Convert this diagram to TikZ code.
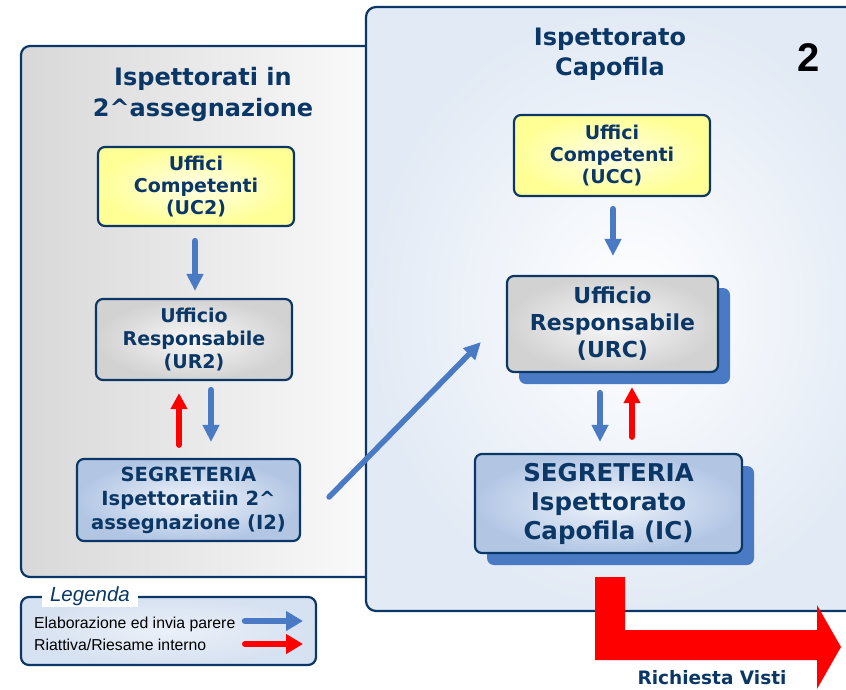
\documentclass[tikz,border=0pt]{standalone}
\usepackage{fontspec}
\usetikzlibrary{shapes,arrows.meta,shadows}
\newfontfamily\boxfont{DejaVu Sans}
\newfontfamily\legfont{Liberation Sans}
\definecolor{navy}{RGB}{10,55,102}
\definecolor{arrblue}{RGB}{74,122,196}
\definecolor{ylwout}{RGB}{255,255,150}
\definecolor{ylwin}{RGB}{255,255,232}
\definecolor{grayout}{RGB}{210,210,210}
\definecolor{grayin}{RGB}{248,248,248}
\definecolor{bluout}{RGB}{178,198,228}
\definecolor{bluin}{RGB}{240,244,251}
\definecolor{panelblue}{RGB}{226,234,245}
\definecolor{panelgray}{RGB}{216,216,216}
\definecolor{legblue}{RGB}{214,225,241}
\tikzset{
  office/.style={draw=navy,line width=2.2pt,rounded corners=7pt,align=center,text=navy},
  ylwbox/.style={office,inner color=ylwin,outer color=ylwout},
  graybox/.style={office,inner color=grayin,outer color=grayout},
  blubox/.style={office,inner color=bluin,outer color=bluout},
  blushadow/.style={drop shadow={shadow xshift=12pt,shadow yshift=-12pt,fill=arrblue,opacity=1}},
  flowarrow/.style={draw=arrblue,line width=6.5pt,line cap=round,-{Triangle[width=16pt,length=17pt]}},
  backarrow/.style={draw=red,line width=6pt,line cap=round,-{Triangle[width=16pt,length=16pt]}},
  paneltitle/.style={align=center,text=navy,font=\boxfont\bfseries\fontsize{24}{31}\selectfont}
}
\begin{document}
\begin{tikzpicture}[x=1pt,y=-1pt]
        \tikzstyle{every node}+=[inner sep=0pt]
        \useasboundingbox (0,0) rectangle (846,689);
        \clip (0,0) rectangle (846,689);
        % left panel
        \shade [left color=panelgray,right color=white!92!panelgray,rounded corners=9pt] (21,46) rectangle (390,577);
        \draw [navy,line width=2.2pt,rounded corners=9pt] (21,46) rectangle (390,577);
        % right panel
        \shade [inner color=white,outer color=panelblue,rounded corners=10pt] (366,7) rectangle (900,611);
        \draw [navy,line width=2.2pt,rounded corners=10pt] (366,7) rectangle (900,611);
        \node [paneltitle] (tl) at (203,94) {Ispettorati in\\2\textasciicircum assegnazione};
        \node [paneltitle,font=\boxfont\bfseries\fontsize{24}{30}\selectfont] (tr) at (610,54) {Ispettorato\\Capofila};
        \node [font=\legfont\bfseries\fontsize{40}{40}\selectfont] (num) at (809,58) {2};
        % offices
        \node [ylwbox,minimum width=196pt,minimum height=79pt,font=\boxfont\bfseries\fontsize{19}{22}\selectfont] (UC2) at (196,186.5) {Uffici\\Competenti\\(UC2)};
        \node [graybox,minimum width=196pt,minimum height=81pt,font=\boxfont\bfseries\fontsize{19}{23}\selectfont] (UR2) at (194,339.5) {Ufficio\\Responsabile\\(UR2)};
        \node [blubox,minimum width=223pt,minimum height=82pt,font=\boxfont\bfseries\fontsize{19.5}{24}\selectfont] (I2) at (188.5,500) {SEGRETERIA\\Ispettoratiin 2\textasciicircum\\assegnazione (I2)};
        \node [ylwbox,minimum width=196pt,minimum height=81pt,font=\boxfont\bfseries\fontsize{19}{22}\selectfont] (UCC) at (612,155.5) {Uffici\\Competenti\\(UCC)};
        \node [graybox,blushadow,minimum width=211pt,minimum height=96pt,font=\boxfont\bfseries\fontsize{22}{27}\selectfont] (URC) at (612.5,324) {Ufficio\\Responsabile\\(URC)};
        \node [blubox,blushadow,minimum width=267pt,minimum height=99pt,font=\boxfont\bfseries\fontsize{24.5}{29}\selectfont] (IC) at (608.5,503.5) {SEGRETERIA\\Ispettorato\\Capofila (IC)};
        % connectors
        \coordinate (a1) at ([xshift=-1pt]UC2.south);
        \draw [flowarrow,shorten <=14pt,shorten >=7pt] (a1) -- (a1 |- UR2.north);
        \coordinate (a2) at ([xshift=-15pt]UR2.south);
        \draw [backarrow,shorten <=13pt,shorten >=12pt] (a2 |- I2.north) -- (a2);
        \coordinate (a3) at ([xshift=17pt]UR2.south);
        \draw [flowarrow,shorten <=9pt,shorten >=16pt] (a3) -- (a3 |- I2.north);
        \draw [flowarrow,line width=5.5pt] ([xshift=28pt,yshift=3pt]I2.east) -- ([xshift=-25pt,yshift=31pt]URC.south west);
        \coordinate (a4) at ([xshift=1pt]UCC.south);
        \draw [flowarrow,shorten <=12pt,shorten >=19pt] (a4) -- (a4 |- URC.north);
        \coordinate (a5) at ([xshift=-12.5pt]URC.south);
        \draw [flowarrow,shorten <=20pt,shorten >=11pt] (a5) -- (a5 |- IC.north);
        \coordinate (a6) at ([xshift=19.5pt]URC.south);
        \draw [backarrow,shorten <=16pt,shorten >=14pt] (a6 |- IC.north) -- (a6);
        % richiesta visti
        \fill [red] (595,577) -- (625,577) -- (625,630) -- (817,630) -- (817,605) -- (841,647) -- (817,689) -- (817,660) -- (595,660) -- cycle;
        \node [text=navy,font=\boxfont\bfseries\fontsize{18.5}{22}\selectfont] (rv) at (712,678) {Richiesta Visti};
        % legend
        \shade [inner color=white!50!legblue,outer color=legblue,rounded corners=8pt] (21,597) rectangle (316,665);
        \draw [navy,line width=2.2pt,rounded corners=8pt] (21,597) rectangle (316,665);
        \node [fill=white,minimum width=96pt,minimum height=21pt,text=navy,font=\legfont\itshape\fontsize{20.5}{22}\selectfont] (leg) at (90,596) {Legenda};
        \node [anchor=base west,font=\legfont\fontsize{15.8}{18}\selectfont] (l1) at (34,628) {Elaborazione ed invia parere};
        \node [anchor=base west,font=\legfont\fontsize{15.8}{18}\selectfont] (l2) at (34,650) {Riattiva/Riesame interno};
        \coordinate (l1s) at (245,621);
        \coordinate (l1e) at (303,621);
        \coordinate (l2s) at (245,644);
        \coordinate (l2e) at (303,644);
        \draw [flowarrow,-{Triangle[width=19pt,length=17pt]}] (l1s) -- (l1e);
        \draw [backarrow,-{Triangle[width=19pt,length=17pt]}] (l2s) -- (l2e);
        \end{tikzpicture}
\end{document}
